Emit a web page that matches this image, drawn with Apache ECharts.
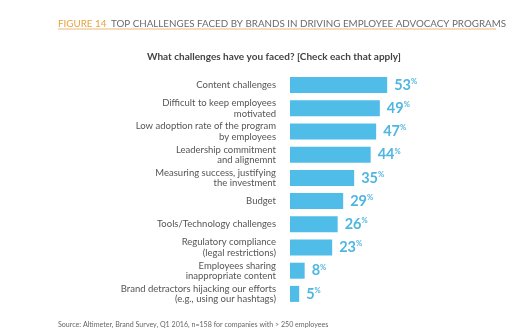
<!DOCTYPE html>
<html><head><meta charset="utf-8">
<script src="https://cdn.jsdelivr.net/npm/echarts@6/dist/echarts.min.js"></script>
<style>html,body{margin:0;padding:0;background:#fff}#c{width:514px;height:336px}</style>
</head><body><div id="c"></div>
<script>
const categories = [
  "Content challenges",
  "Difficult to keep employees\nmotivated",
  "Low adoption rate of the program\nby employees",
  "Leadership commitment\nand alignemnt",
  "Measuring success, justifying\nthe investment",
  "Budget",
  "Tools/Technology challenges",
  "Regulatory compliance\n(legal restrictions)",
  "Employees sharing\ninappropriate content",
  "Brand detractors hijacking our efforts\n(e.g., using our hashtags)"
];
const values = [53, 49, 47, 44, 35, 29, 26, 23, 8, 5];
const titleLead = "FIGURE 14";
const titleRest = "TOP CHALLENGES FACED BY BRANDS IN DRIVING EMPLOYEE ADVOCACY PROGRAMS";
const subtitle = "What challenges have you faced? [Check each that apply]";
const source = "Source: Altimeter, Brand Survey, Q1 2016, n=158 for companies with > 250 employees";

const chart = echarts.init(document.getElementById('c'));
chart.setOption({
  animation: false,
  textStyle: { fontFamily: 'Lato' },
  title: [
    { text: '{a|' + titleLead + '} {b|' + titleRest + '}', left: 58, top: 15, padding: 0,
      textStyle: { fontWeight: 'normal', rich: {
        a: { color: '#E8A13A', fontSize: 9.8, fontWeight: 'normal', fontFamily: 'Lato' },
        b: { color: '#6b6b6b', fontSize: 9.8, fontWeight: 'normal', fontFamily: 'Lato' } } } },
    { text: subtitle, left: 147, top: 52, padding: 0,
      textStyle: { color: '#444', fontSize: 10, fontWeight: 'bold', fontFamily: 'Lato' } },
    { text: source, left: 58, top: 321, padding: 0,
      textStyle: { color: '#666', fontSize: 7.1, fontWeight: 'normal', fontFamily: 'Lato' } }
  ],
  graphic: [
    { type: 'line', shape: { x1: 58, y1: 29, x2: 496, y2: 29 },
      style: { stroke: '#E8B87A', lineWidth: 1 } }
  ],
  grid: { left: 290, top: 73.5, right: 114, bottom: 30.5, containLabel: false },
  xAxis: { type: 'value', min: 0, max: 60, show: false },
  yAxis: {
    type: 'category', data: categories, inverse: true,
    axisLine: { show: false }, axisTick: { show: false },
    axisLabel: { color: '#555', fontSize: 9.5, lineHeight: 10.5, margin: 14, fontFamily: 'Lato' }
  },
  series: [{
    type: 'bar', data: values, barCategoryGap: '31%',
    itemStyle: { color: '#4FBDE7' },
    label: {
      show: true, position: 'right', distance: 7,
      formatter: p => '{v|' + p.value + '}{p|%}',
      rich: {
        v: { color: '#4FB6E0', fontSize: 14.5, fontWeight: 'bold', fontFamily: 'Lato' },
        p: { color: '#4FB6E0', fontSize: 7.5, fontWeight: 'bold', verticalAlign: 'top', padding: [0,0,7,0], fontFamily: 'Lato' }
      }
    }
  }]
});
</script></body></html>
